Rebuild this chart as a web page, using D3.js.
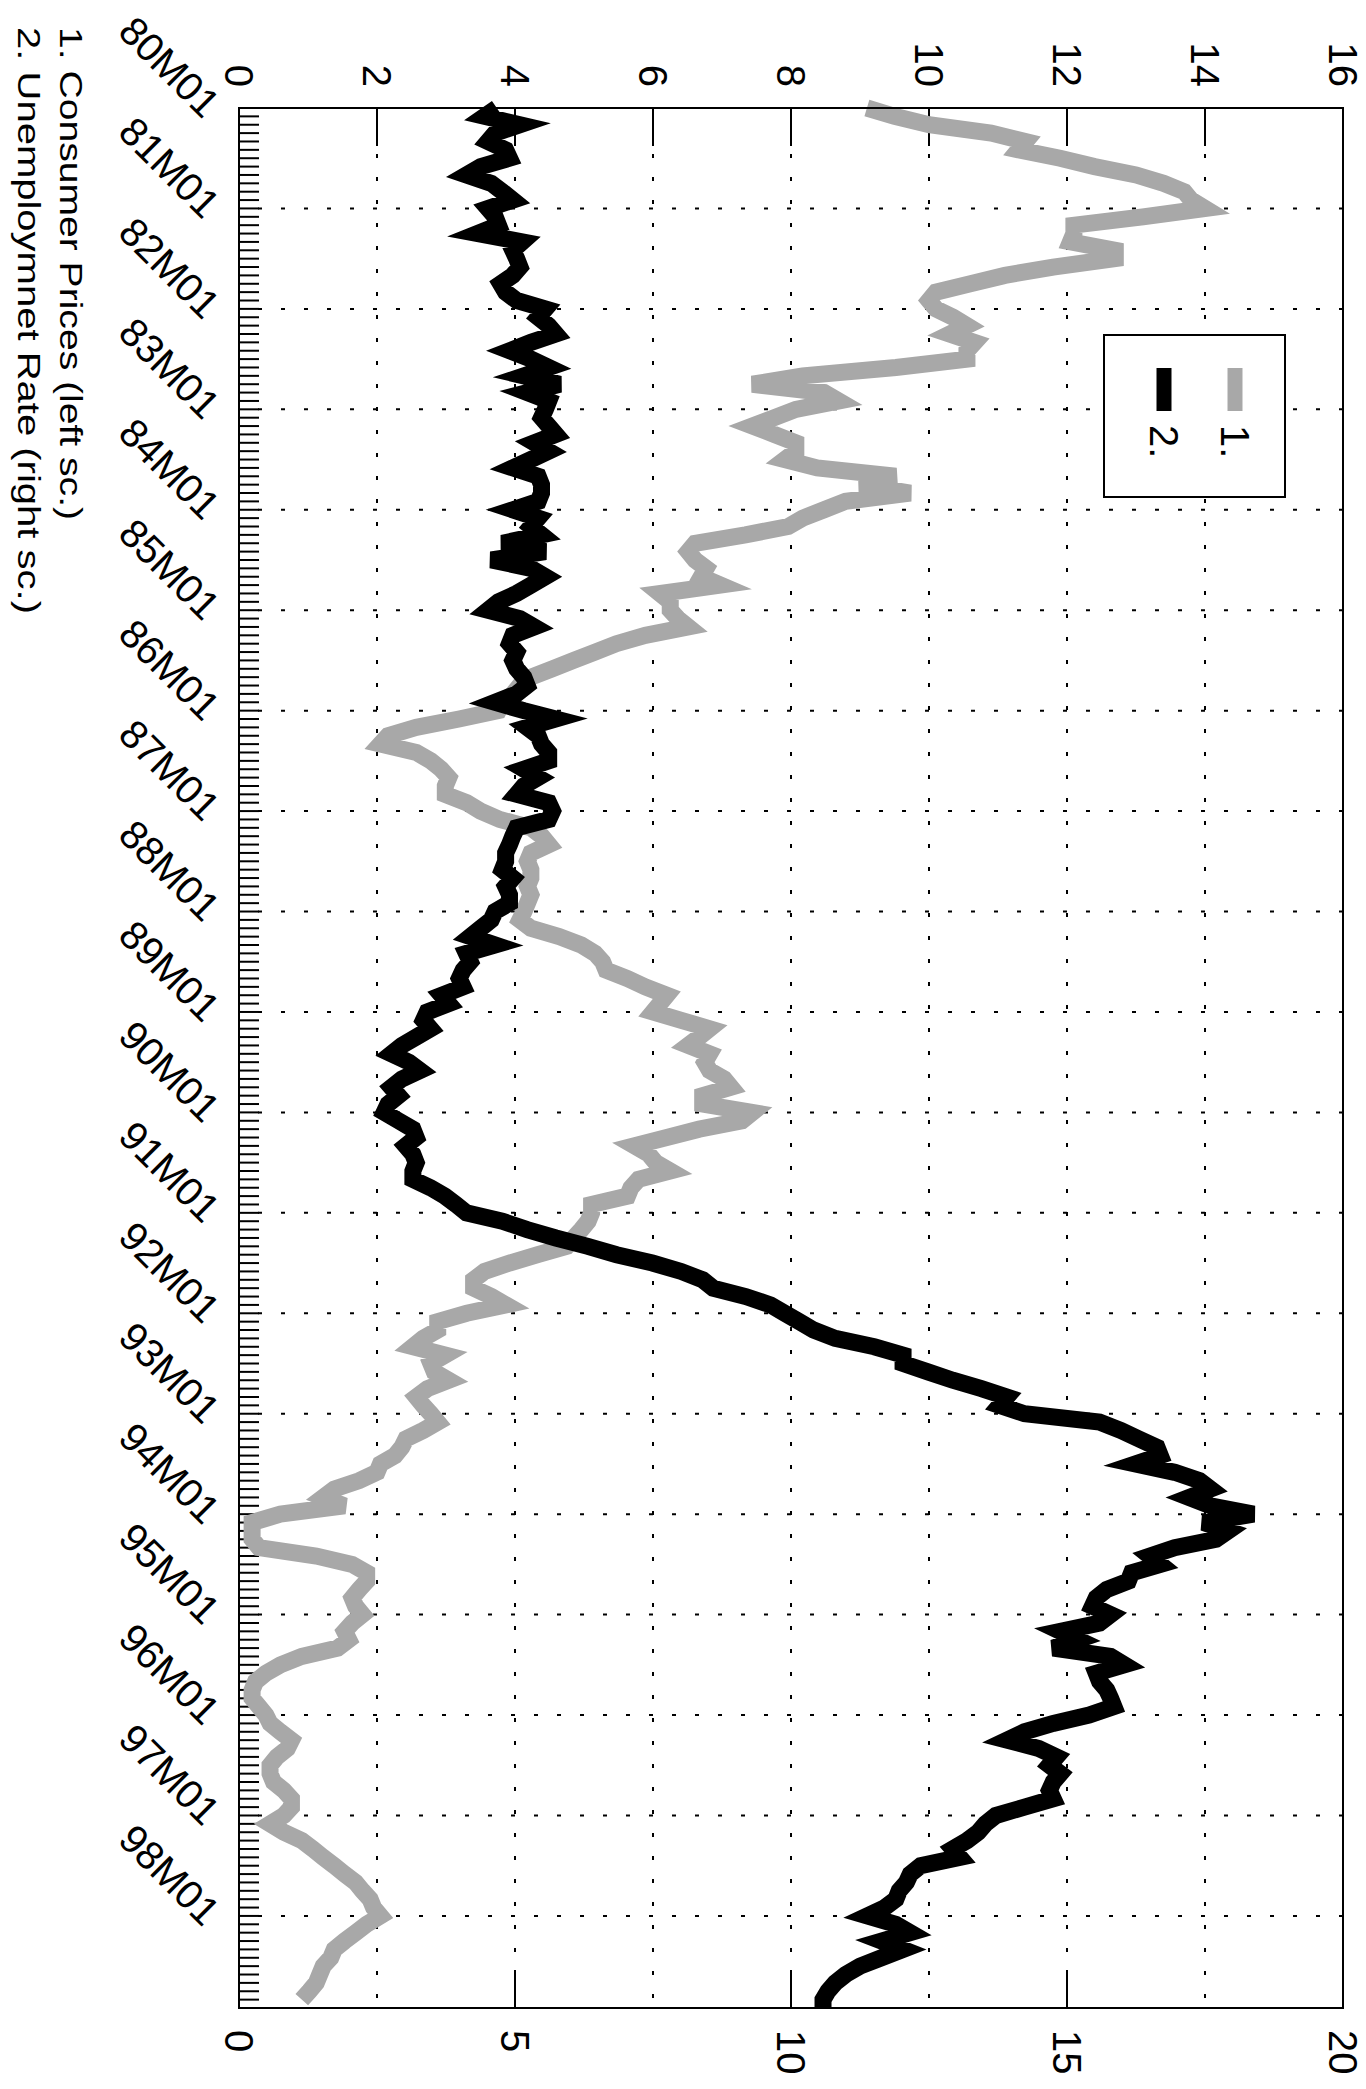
<!DOCTYPE html>
<html>
<head>
<meta charset="utf-8">
<script src="https://cdn.jsdelivr.net/npm/d3@7"></script>
<style>
  body { margin: 0; background: #fff; }
  text { font-family: "Liberation Sans", Arial, Helvetica, sans-serif; fill: #000; }
</style>
</head>
<body>
<div id="chart"></div>
<script>
// monthly data, 80M01 .. 98M12 (index 0 = 80M01)
var cpi = [
  9.1, 9.5, 10.0, 10.9, 11.4, 11.3, 11.9, 12.4, 13.0, 13.4, 13.7, 13.8,
  14.0, 13.1, 12.1, 12.1, 12.05, 12.7, 12.7, 11.8, 11.1, 10.6, 10.1, 10.0,
  10.1, 10.35, 10.55, 10.3, 10.66, 10.55, 10.55, 9.52, 8.17, 7.44, 8.48, 8.69,
  8.07, 7.76, 7.44, 7.76, 8.07, 8.07, 7.91, 8.38, 9.52, 9.0, 9.73, 8.79,
  8.48, 8.17, 7.96, 7.34, 6.61, 6.51, 6.61, 6.77, 6.7, 6.98, 6.1, 6.25,
  6.25, 6.36, 6.51, 5.89, 5.47, 5.16, 4.85, 4.54, 4.23, 4.07, 3.97, 3.82,
  3.76, 3.19, 2.57, 2.16, 2.05, 2.57, 2.78, 2.93, 3.04, 2.99, 2.99, 3.3,
  3.5, 3.78, 4.23, 4.39, 4.49, 4.23, 4.18, 4.23, 4.23, 4.18, 4.23, 4.18,
  4.13, 4.07, 4.23, 4.64, 4.96, 5.16, 5.27, 5.32, 5.63, 5.89, 6.2, 6.1,
  6.0, 6.41, 6.82, 6.67, 6.51, 6.82, 6.75, 6.82, 7.03, 7.13, 6.72, 6.72,
  7.44, 7.29, 6.67, 6.2, 5.73, 5.94, 6.04, 6.25, 5.79, 5.68, 5.63, 5.11,
  5.11, 5.06, 4.96, 4.85, 4.75, 4.33, 3.92, 3.56, 3.4, 3.4, 3.66, 3.87,
  3.3, 2.88, 2.88, 2.67, 2.52, 2.99, 2.78, 2.83, 3.04, 2.73, 2.57, 2.67,
  2.78, 2.88, 2.67, 2.42, 2.36, 2.26, 2.05, 2.0, 1.74, 1.38, 1.22, 1.53,
  0.6, 0.19, 0.19, 0.19, 0.29, 1.12, 1.64, 1.85, 1.85, 1.74, 1.64, 1.69,
  1.79, 1.64, 1.53, 1.59, 1.43, 0.91, 0.6, 0.39, 0.24, 0.19, 0.19, 0.29,
  0.39, 0.45, 0.6, 0.76, 0.7, 0.55, 0.45, 0.45, 0.5, 0.65, 0.76, 0.76,
  0.65, 0.45, 0.65, 0.91, 1.07, 1.22, 1.38, 1.53, 1.69, 1.79, 1.9, 1.95,
  2.05, 1.85, 1.69, 1.53, 1.38, 1.33, 1.22, 1.17, 1.12, 1.02, 0.91
];

var unemp = [
  4.67, 4.45, 5.09, 4.64, 4.51, 4.83, 4.9, 4.38, 4.12, 4.57, 4.77, 4.96,
  4.51, 4.64, 4.7, 4.32, 5.13, 4.96, 5.03, 5.09, 4.96, 4.74, 4.83, 5.03,
  5.55, 5.42, 5.61, 5.74, 5.29, 4.9, 5.29, 5.61, 5.16, 5.81, 5.22, 5.61,
  5.55, 5.48, 5.61, 5.74, 5.35, 5.61, 5.29, 4.96, 5.42, 5.48, 5.48, 5.42,
  4.96, 5.42, 5.29, 5.48, 4.77, 5.55, 4.57, 5.29, 5.55, 5.29, 5.03, 4.7,
  4.51, 5.09, 5.35, 4.96, 4.9, 5.03, 4.96, 5.03, 5.16, 5.22, 5.03, 4.64,
  5.16, 5.74, 5.22, 5.42, 5.48, 5.61, 5.61, 5.16, 5.42, 5.16, 5.03, 5.61,
  5.68, 5.61, 5.03, 4.96, 4.9, 4.83, 4.83, 4.77, 4.96, 4.83, 4.9, 4.9,
  4.64, 4.57, 4.38, 4.19, 4.64, 4.12, 4.19, 4.06, 3.99, 4.06, 3.67, 3.8,
  3.41, 3.34, 3.47, 3.21, 2.95, 2.76, 3.08, 3.28, 2.95, 2.76, 2.89, 2.7,
  2.63, 2.89, 3.15, 3.21, 3.02, 3.15, 3.21, 3.15, 3.15, 3.47, 3.73, 3.93,
  4.12, 4.77, 5.22, 5.74, 6.32, 6.84, 7.49, 8.01, 8.4, 8.59, 9.18, 9.63,
  9.89, 10.15, 10.41, 10.8, 11.51, 12.03, 12.03, 12.48, 12.93, 13.45, 13.91, 13.78,
  14.23, 15.59, 15.98, 16.3, 16.63, 16.69, 16.24, 16.95, 17.4, 17.6, 17.21, 17.6,
  18.38, 17.47, 17.92, 17.7, 16.95, 16.5, 16.69, 16.17, 16.11, 15.72, 15.53, 15.46,
  15.79, 15.59, 14.88, 15.2, 14.75, 15.79, 16.04, 15.53, 15.59, 15.72, 15.79, 15.85,
  15.4, 14.75, 14.23, 13.91, 14.49, 14.81, 14.68, 14.88, 14.75, 14.68, 14.75, 14.23,
  13.71, 13.52, 13.39, 13.19, 12.93, 13.06, 12.35, 12.16, 12.09, 11.96, 11.9, 11.7,
  11.38, 11.9, 12.16, 11.64, 12.03, 11.64, 11.25, 10.99, 10.8, 10.67, 10.58, 10.58
];

var yearLabels = ["80M01", "81M01", "82M01", "83M01", "84M01", "85M01", "86M01",
  "87M01", "88M01", "89M01", "90M01", "91M01", "92M01", "93M01", "94M01",
  "95M01", "96M01", "97M01", "98M01"];
var leftTicks = [0, 2, 4, 6, 8, 10, 12, 14, 16];
var rightTicks = [0, 5, 10, 15, 20];
var seriesNames = ["1.", "2."];
var notes = ["1. Consumer Prices (left sc.)", "2. Unemploymnet Rate (right sc.)"];

// page is the landscape chart turned a quarter clockwise
var pageW = 1366, pageH = 2089;
var plot = { left: 108, right: 2008, top: 23, bottom: 1127 };

var svg = d3.select("#chart")
    .append("svg")
    .attr("width", pageW)
    .attr("height", pageH);

svg.append("rect")
    .attr("width", pageW)
    .attr("height", pageH)
    .attr("fill", "#fff");

var g = svg.append("g")
    .attr("transform", "translate(" + pageW + ",0) rotate(90)");

// scales
var x = d3.scaleLinear()
    .domain([0, 227])
    .range([plot.left, plot.right]);
var yL = d3.scaleLinear()
    .domain([0, 16])
    .range([plot.bottom, plot.top]);
var yR = d3.scaleLinear()
    .domain([0, 20])
    .range([plot.bottom, plot.top]);

var months = d3.range(228);
var yearIdx = yearLabels.map(function (d, i) { return i * 12; });

// dotted grid
g.append("g")
    .selectAll("line")
    .data(yearIdx.slice(1))
    .enter()
    .append("line")
    .attr("x1", function (d) { return x(d); })
    .attr("x2", function (d) { return x(d); })
    .attr("y1", plot.top)
    .attr("y2", plot.bottom)
    .attr("stroke", "#000")
    .attr("stroke-width", 2)
    .attr("stroke-dasharray", "4,19");

g.append("g")
    .selectAll("line")
    .data(leftTicks.slice(1, -1))
    .enter()
    .append("line")
    .attr("x1", plot.left)
    .attr("x2", plot.right)
    .attr("y1", function (d) { return yL(d); })
    .attr("y2", function (d) { return yL(d); })
    .attr("stroke", "#000")
    .attr("stroke-width", 2)
    .attr("stroke-dasharray", "4,19");

// monthly ticks on the time axis
g.append("g")
    .selectAll("line")
    .data(months)
    .enter()
    .append("line")
    .attr("x1", function (d) { return x(d); })
    .attr("x2", function (d) { return x(d); })
    .attr("y1", plot.bottom)
    .attr("y2", plot.bottom - 20)
    .attr("stroke", "#000")
    .attr("stroke-width", 2);

// left and right scale ticks
g.append("g")
    .selectAll("line")
    .data(leftTicks)
    .enter()
    .append("line")
    .attr("x1", plot.left)
    .attr("x2", plot.left + 38)
    .attr("y1", function (d) { return yL(d); })
    .attr("y2", function (d) { return yL(d); })
    .attr("stroke", "#000")
    .attr("stroke-width", 2);

g.append("g")
    .selectAll("line")
    .data(rightTicks)
    .enter()
    .append("line")
    .attr("x1", plot.right)
    .attr("x2", plot.right - 38)
    .attr("y1", function (d) { return yR(d); })
    .attr("y2", function (d) { return yR(d); })
    .attr("stroke", "#000")
    .attr("stroke-width", 2);

// the two series
var lineL = d3.line()
    .x(function (d, i) { return x(i); })
    .y(function (d) { return yL(d); });
var lineR = d3.line()
    .x(function (d, i) { return x(i); })
    .y(function (d) { return yR(d); });

g.append("path")
    .datum(cpi)
    .attr("d", lineL)
    .attr("fill", "none")
    .attr("stroke", "#a8a8a8")
    .attr("stroke-width", 17)
    .attr("stroke-linejoin", "miter");

g.append("path")
    .datum(unemp)
    .attr("d", lineR)
    .attr("fill", "none")
    .attr("stroke", "#000")
    .attr("stroke-width", 17)
    .attr("stroke-linejoin", "miter");

// frame
g.append("rect")
    .attr("x", plot.left)
    .attr("y", plot.top)
    .attr("width", plot.right - plot.left)
    .attr("height", plot.bottom - plot.top)
    .attr("fill", "none")
    .attr("stroke", "#000")
    .attr("stroke-width", 2);

// tick labels
g.append("g")
    .selectAll("text")
    .data(leftTicks)
    .enter()
    .append("text")
    .attr("x", plot.left - 21)
    .attr("y", function (d) { return yL(d); })
    .attr("dy", "0.36em")
    .style("text-anchor", "end")
    .style("font-size", "40px")
    .text(function (d) { return d; });

g.append("g")
    .selectAll("text")
    .data(rightTicks)
    .enter()
    .append("text")
    .attr("x", plot.right + 22)
    .attr("y", function (d) { return yR(d); })
    .attr("dy", "0.36em")
    .style("text-anchor", "start")
    .style("font-size", "40px")
    .text(function (d) { return d; });

g.append("g")
    .selectAll("text")
    .data(yearLabels)
    .enter()
    .append("text")
    .attr("transform", function (d, i) {
        return "translate(" + (x(yearIdx[i]) + 12) + "," + (plot.bottom + 36) + ") rotate(-45)";
    })
    .style("text-anchor", "end")
    .style("font-size", "40px")
    .text(function (d) { return d; });

// legend
var legend = g.append("g").attr("transform", "translate(335,81)");
legend.append("rect")
    .attr("width", 162)
    .attr("height", 181)
    .attr("fill", "#fff")
    .attr("stroke", "#000")
    .attr("stroke-width", 2);

var legendColors = ["#a8a8a8", "#000"];
seriesNames.forEach(function (name, i) {
    var cy = 50 + i * 71;
    legend.append("line")
        .attr("x1", 33)
        .attr("x2", 76)
        .attr("y1", cy)
        .attr("y2", cy)
        .attr("stroke", legendColors[i])
        .attr("stroke-width", 15);
    legend.append("text")
        .attr("x", 90)
        .attr("y", cy)
        .attr("dy", "0.36em")
        .style("font-size", "40px")
        .text(name);
});

// notes under the chart
var noteLen = [493, 587];
g.append("g")
    .selectAll("text")
    .data(notes)
    .enter()
    .append("text")
    .attr("x", 27)
    .attr("y", function (d, i) { return 1306 + i * 42; })
    .attr("textLength", function (d, i) { return noteLen[i]; })
    .attr("lengthAdjust", "spacingAndGlyphs")
    .style("font-size", "32px")
    .text(function (d) { return d; });
</script>
</body>
</html>
